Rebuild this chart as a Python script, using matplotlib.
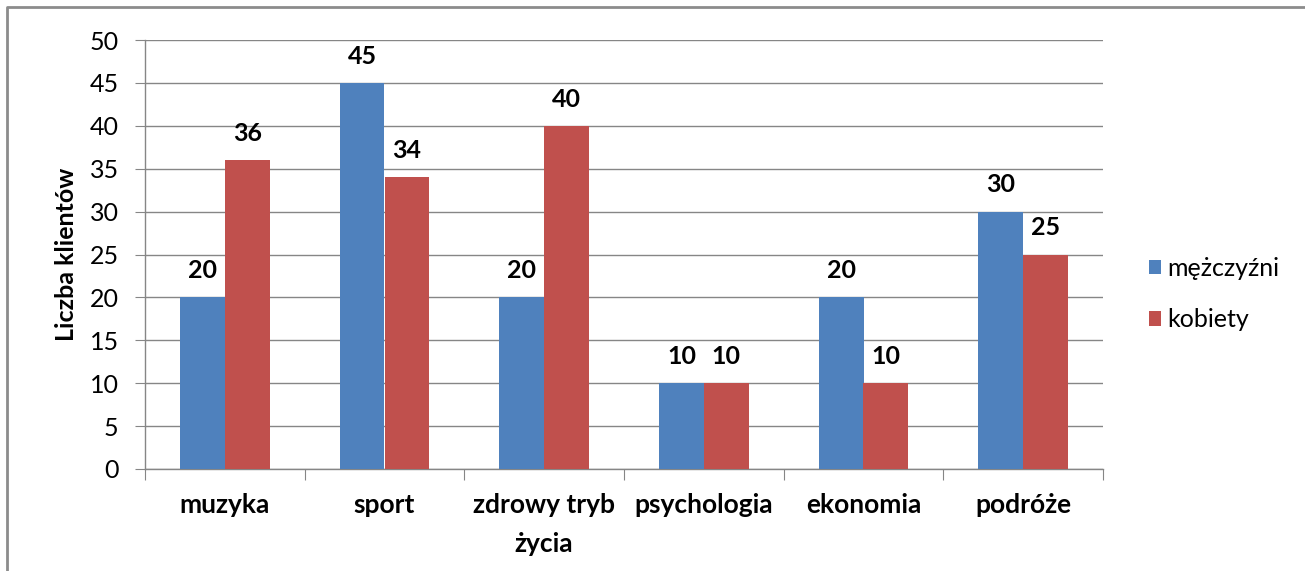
import matplotlib
matplotlib.use("Agg")
import matplotlib.pyplot as plt
from matplotlib.lines import Line2D
from matplotlib.patches import Patch
import numpy as np

plt.rcParams['font.family'] = ['Lato', 'DejaVu Sans']

categories = ["muzyka", "sport", "zdrowy tryb\nżycia", "psychologia", "ekonomia", "podróże"]
men = [20, 45, 20, 10, 20, 30]
women = [36, 34, 40, 10, 10, 25]
series_names = ["mężczyźni", "kobiety"]
yticks = [0, 5, 10, 15, 20, 25, 30, 35, 40, 45, 50]

blue = "#4F81BD"
red = "#C0504D"
gray = "#868686"

fig = plt.figure(figsize=(13.05, 5.71), dpi=100)
ax = fig.add_axes([145/1305, 1-469/571, (1103-145)/1305, (469-40)/571])

x = np.arange(len(categories))
w = 0.28
b1 = ax.bar(x - w/2, men, w, color=blue, zorder=3)
b2 = ax.bar(x + w/2, women, w, color=red, zorder=3)

for bars, vals in ((b1, men), (b2, women)):
    for r, v in zip(bars, vals):
        ax.annotate(str(v), (r.get_x() + r.get_width()/2, v), xytext=(0, 11),
                    textcoords="offset points", ha="center", va="bottom",
                    fontsize=18, fontweight="bold", color="#000000")

ax.set_xlim(-0.5, len(categories) - 0.5)
ax.set_ylim(0, 50)
ax.set_yticks(yticks)
ax.set_yticklabels([str(t) for t in yticks], fontsize=18)
ax.yaxis.grid(True, color=gray, linewidth=1, zorder=0)
ax.set_axisbelow(True)

ax.set_xticks(np.arange(len(categories) + 1) - 0.5)
ax.set_xticklabels([])
ax.set_xticks(x, minor=True)
ax.set_xticklabels(categories, minor=True, fontsize=19, fontweight="bold", linespacing=1.75)
ax.tick_params(axis="x", which="minor", length=0, pad=17)
ax.tick_params(axis="x", which="major", length=8, color=gray, direction="out")
ax.tick_params(axis="y", length=7, color=gray, direction="out", pad=12)

for s in ("top", "right"):
    ax.spines[s].set_visible(False)
for s in ("left", "bottom"):
    ax.spines[s].set_color(gray)
    ax.spines[s].set_linewidth(1)

ax.set_ylabel("Liczba klientów", fontsize=18, fontweight="bold", labelpad=8)

handles = [Patch(facecolor=blue), Patch(facecolor=red)]
fig.legend(handles, series_names, loc="center left", bbox_to_anchor=(1126/1305, 1-294/571),
           frameon=False, fontsize=18, handlelength=0.5, handleheight=0.5,
           handletextpad=0.25, labelspacing=1.15)

fig.add_artist(Line2D([7/1305, 7/1305, 1.0], [0.0, 1-7/571, 1-7/571], transform=fig.transFigure,
                      color="#8C8C8C", linewidth=2))

fig.savefig("out.png", dpi=100)
